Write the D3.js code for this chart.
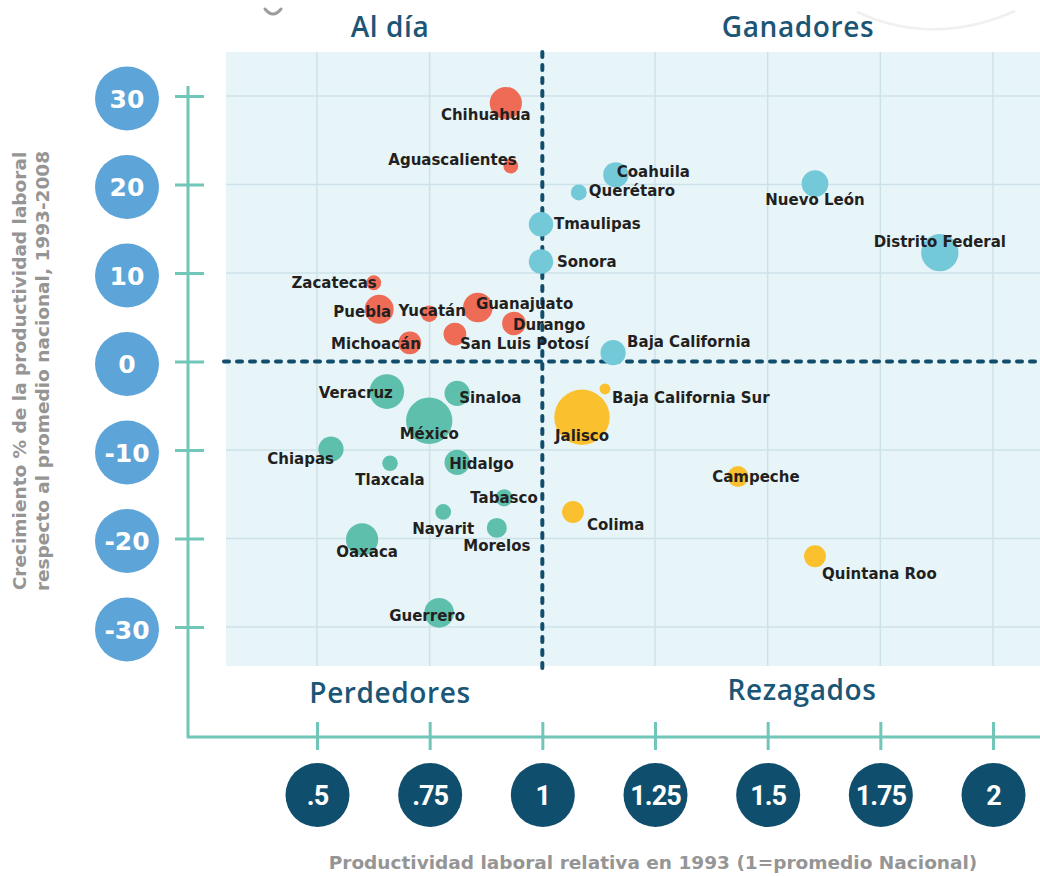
<!DOCTYPE html>
<html>
<head>
<meta charset="utf-8">
<script src="https://cdn.jsdelivr.net/npm/d3@7"></script>
<style>
  body { margin: 0; background: #fff; }
  svg { display: block; }
  .lbl { font-family: "DejaVu Sans", sans-serif; font-weight: bold; font-size: 15px; fill: #231f20; }
  .cuadrante { font-family: "Open Sans", sans-serif; font-weight: 600; font-size: 28px; fill: #1b5677; letter-spacing: 0.6px; }
  .titulo { font-family: "DejaVu Sans", sans-serif; font-weight: bold; font-size: 18.5px; fill: #959595; }
</style>
</head>
<body>
<svg id="chart" width="1040" height="876"></svg>
<script>
// datos por estado
var estados = ["Chihuahua", "Aguascalientes", "Zacatecas", "Puebla", "Yucatán", "Guanajuato", "Durango",
  "San Luis Potosí", "Michoacán", "Coahuila", "Querétaro", "Nuevo León", "Tmaulipas", "Sonora",
  "Distrito Federal", "Baja California", "Baja California Sur", "Jalisco", "Campeche", "Colima",
  "Quintana Roo", "Veracruz", "Sinaloa", "México", "Chiapas", "Tlaxcala", "Hidalgo", "Tabasco",
  "Nayarit", "Morelos", "Oaxaca", "Guerrero"];
var productividad1993 = [0.919, 0.930, 0.626, 0.638, 0.749, 0.857, 0.937,
  0.806, 0.706, 1.163, 1.081, 1.605, 0.997, 0.997,
  1.882, 1.157, 1.139, 1.088, 1.434, 1.068,
  1.605, 0.655, 0.811, 0.749, 0.531, 0.662, 0.811, 0.915,
  0.780, 0.899, 0.600, 0.771];
var crecimiento = [29.2, 22.1, 8.9, 5.9, 5.4, 6.1, 4.3,
  3.1, 2.1, 21.1, 19.1, 20.1, 15.5, 11.3,
  12.3, 1.0, -3.1, -6.3, -13.0, -17.0,
  -22.0, -3.4, -3.6, -6.7, -9.9, -11.5, -11.4, -15.4,
  -17.0, -18.8, -20.1, -28.4];
var peso = [26, 5.6, 5.5, 21, 6.9, 22, 14,
  13, 13, 16, 6.4, 18, 15, 15,
  35, 16, 3.0, 77, 11, 12,
  12, 30, 16, 54, 16, 6.1, 16, 7.4,
  6.2, 10, 26, 22];
var grupo = [0, 0, 0, 0, 0, 0, 0,
  0, 0, 1, 1, 1, 1, 1,
  1, 1, 3, 3, 3, 3,
  3, 2, 2, 2, 2, 2, 2, 2,
  2, 2, 2, 2];
var grupos = ["Al día", "Ganadores", "Perdedores", "Rezagados"];

var xTicks = [0.5, 0.75, 1, 1.25, 1.5, 1.75, 2];
var xTickLabels = [".5", ".75", "1", "1.25", "1.5", "1.75", "2"];
var yTicks = [30, 20, 10, 0, -10, -20, -30];

var colores = ["#ee6b55", "#74c9d9", "#5fbfad", "#fbc02d"];

// posicion de cada etiqueta respecto a su burbuja: dx, dy (linea base), anclaje
var etiquetas = {
  "Chihuahua": [-20, 17, "middle"], "Aguascalientes": [6, -1, "end"], "Zacatecas": [3, 5, "end"],
  "Puebla": [12, 8, "end"], "Yucatán": [3, 2, "middle"], "Guanajuato": [-2, 1, "start"],
  "Durango": [-1, 7, "start"], "San Luis Potosí": [5, 15, "start"], "Michoacán": [11, 6, "end"],
  "Coahuila": [1, 2, "start"], "Querétaro": [10, 4, "start"], "Nuevo León": [0, 21, "middle"],
  "Tmaulipas": [13, 5, "start"], "Sonora": [16, 6, "start"], "Distrito Federal": [0, -6, "middle"],
  "Baja California": [14, -6, "start"], "Baja California Sur": [7, 14, "start"],
  "Jalisco": [0, 24, "middle"], "Campeche": [18, 5, "middle"], "Colima": [14, 18, "start"],
  "Quintana Roo": [7, 23, "start"], "Veracruz": [6, 6, "end"], "Sinaloa": [2, 10, "start"],
  "México": [0, 18, "middle"], "Chiapas": [3, 15, "end"], "Tlaxcala": [0, 22, "middle"],
  "Hidalgo": [-8, 7, "start"], "Tabasco": [0, 5, "middle"], "Nayarit": [0, 22, "middle"],
  "Morelos": [0, 23, "middle"], "Oaxaca": [5, 18, "middle"], "Guerrero": [-12, 8, "middle"]
};

var svg = d3.select("#chart");

var x = d3.scaleLinear().domain([0.5, 2]).range([317, 993]);
var y = d3.scaleLinear().domain([-30, 30]).range([627, 96]);
var r = d3.scaleSqrt().domain([0, 77]).range([0, 27.7]);

var area = { left: 226, right: 1040, top: 52, bottom: 666 };

// adornos de fondo
svg.append("path").attr("d", "M265,9 Q273,19 281,9")
  .attr("fill", "none").attr("stroke", "#9c9c9c").attr("stroke-width", 3).attr("stroke-linecap", "round");
svg.append("path").attr("d", "M857,12 C895,30 950,40 1015,11")
  .attr("fill", "none").attr("stroke", "#f0f0ee").attr("stroke-width", 2.5);

// fondo del area de trazo
svg.append("rect")
  .attr("x", area.left).attr("y", area.top)
  .attr("width", area.right - area.left).attr("height", area.bottom - area.top)
  .attr("fill", "#e7f5f9");

// cuadricula
var grid = svg.append("g").attr("stroke", "#cde2e8").attr("stroke-width", 1.5);
grid.selectAll(".gx").data(xTicks.filter(d => d != 1)).join("line")
  .attr("x1", d => x(d)).attr("x2", d => x(d))
  .attr("y1", area.top).attr("y2", area.bottom);
grid.selectAll(".gy").data(yTicks.filter(d => d != 0)).join("line")
  .attr("x1", area.left).attr("x2", area.right)
  .attr("y1", d => y(d)).attr("y2", d => y(d));

// lineas punteadas de los cuadrantes
var punteada = svg.append("g").attr("stroke", "#124e6c").attr("stroke-width", 4)
  .attr("stroke-dasharray", "5 8").attr("stroke-linecap", "round");
punteada.append("line")
  .attr("x1", area.left - 2).attr("x2", area.right + 4)
  .attr("y1", y(0)).attr("y2", y(0));
punteada.append("line")
  .attr("x1", x(1)).attr("x2", x(1))
  .attr("y1", area.top).attr("y2", area.bottom + 2);

// ejes
var ejeColor = "#70c6b7";
svg.append("line").attr("x1", 188).attr("x2", 188).attr("y1", 86).attr("y2", 738)
  .attr("stroke", ejeColor).attr("stroke-width", 3);
svg.append("line").attr("x1", 187).attr("x2", 1040).attr("y1", 737).attr("y2", 737)
  .attr("stroke", ejeColor).attr("stroke-width", 3);

var ejeY = svg.append("g").attr("transform", "translate(204,0)")
  .call(d3.axisLeft(y).tickValues(yTicks).tickSize(29).tickFormat(""));
ejeY.select(".domain").remove();
ejeY.selectAll(".tick line").attr("stroke", ejeColor).attr("stroke-width", 3);
ejeY.selectAll(".tick text").remove();
ejeY.selectAll(".tick").append("circle")
  .attr("cx", -77).attr("cy", 2).attr("r", 32).attr("fill", "#5da5d8");
ejeY.selectAll(".tick").append("text")
  .attr("x", -77).attr("y", 11).attr("text-anchor", "middle")
  .attr("fill", "#fff").attr("font-family", "DejaVu Sans, sans-serif")
  .attr("font-weight", "bold").attr("font-size", 25)
  .text(d => d);

var ejeX = svg.append("g").attr("transform", "translate(0,722)")
  .call(d3.axisBottom(x).tickValues(xTicks).tickSize(28).tickFormat(""));
ejeX.select(".domain").remove();
ejeX.selectAll(".tick line").attr("stroke", ejeColor).attr("stroke-width", 3);
ejeX.selectAll(".tick text").remove();
ejeX.selectAll(".tick").append("circle")
  .attr("cx", 0).attr("cy", 73).attr("r", 32).attr("fill", "#0f4f6d");
ejeX.selectAll(".tick").append("text")
  .attr("x", 0).attr("y", 83).attr("text-anchor", "middle")
  .attr("fill", "#fff").attr("font-family", "Roboto, sans-serif")
  .attr("font-weight", "bold").attr("font-size", 27).attr("letter-spacing", -1)
  .text((d, i) => xTickLabels[i]);

// etiquetas de cuadrante
var cuadrantes = [[390, 37], [798, 37], [390, 703], [802, 700]];
svg.selectAll(".cuadrante").data(grupos).join("text")
  .attr("class", "cuadrante")
  .attr("x", (d, i) => cuadrantes[i][0]).attr("y", (d, i) => cuadrantes[i][1])
  .attr("text-anchor", "middle")
  .text(d => d);

// burbujas
var datos = estados.map((e, i) => ({
  estado: e, px: productividad1993[i], cr: crecimiento[i], peso: peso[i], grupo: grupo[i]
}));

svg.append("g").selectAll("circle").data(datos).join("circle")
  .attr("cx", d => x(d.px)).attr("cy", d => y(d.cr))
  .attr("r", d => r(d.peso))
  .attr("fill", d => colores[d.grupo]);

svg.append("g").selectAll("text").data(datos).join("text")
  .attr("class", "lbl")
  .attr("x", d => x(d.px) + etiquetas[d.estado][0])
  .attr("y", d => y(d.cr) + etiquetas[d.estado][1])
  .attr("text-anchor", d => etiquetas[d.estado][2])
  .text(d => d.estado);

// titulos de ejes
svg.append("text").attr("class", "titulo")
  .attr("x", 653).attr("y", 869).attr("text-anchor", "middle")
  .text("Productividad laboral relativa en 1993 (1=promedio Nacional)");

var tituloY = svg.append("text").attr("class", "titulo")
  .attr("transform", "translate(0,371) rotate(-90)")
  .attr("text-anchor", "middle");
tituloY.append("tspan").attr("x", 0).attr("y", 26).text("Crecimiento % de la productividad laboral");
tituloY.append("tspan").attr("x", 0).attr("y", 49).text("respecto al promedio nacional, 1993-2008");
</script>
</body>
</html>
